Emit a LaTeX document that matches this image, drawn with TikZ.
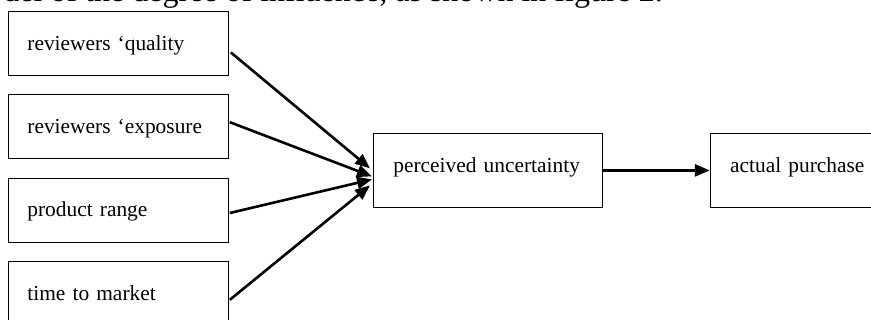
\documentclass[tikz,border=0pt]{standalone}
\usepackage{fontspec}
\setmainfont{Liberation Serif}
\usetikzlibrary{arrows.meta,positioning,calc}

\begin{document}
\begin{tikzpicture}[
  x=1pt,y=-1pt,
  node distance=18.5pt,
  b/.style={draw,line width=0.8pt,align=left,
            font=\fontsize{21.4}{24}\selectfont,inner xsep=19pt,inner ysep=0pt,
            text width=182pt,text height=39pt,text depth=25pt},
  w/.style={b,inner xsep=20pt,text depth=35pt},
  fl/.style={-{Triangle[length=15pt,width=12pt]},line width=2.6pt},
  ]
  \useasboundingbox (0,0) rectangle (871,320);
  \clip (0,0) rectangle (871,320);
  \node[font=\fontsize{32}{34}\selectfont,inner sep=0pt,anchor=base east]
    (cap) at (663,2) {model of the degree of influence, as shown in figure 2.};

  \node[b,anchor=north west] (qual) at (8,11) {reviewers ‘quality};
  \node[b,below=of qual] (expo) {reviewers ‘exposure};
  \node[b,below=of expo] (range) {product range};
  \node[b,below=of range] (ttm) {time to market};
  \node[w,text width=189pt,anchor=north west] (unc) at (373,133)
    {perceived uncertainty};
  \node[w,text width=121pt,right=107pt of unc] (buy)
    {\mbox{actual purchase}};

  \draw[fl] ($(qual.east)+(2,9)$) -- ($(unc.west)+(-3,-2)$);
  \draw[fl] ($(expo.east)+(1,-4.5)$) -- ($(unc.west)+(-1,6)$);
  \draw[fl] ($(range.east)+(1,3)$) -- ($(unc.west)+(-1,9)$);
  \draw[fl] ($(ttm.east)+(1,6.5)$) -- ($(unc.west)+(-3,15)$);
  \draw[fl] (unc) -- (buy);
\end{tikzpicture}
\end{document}
